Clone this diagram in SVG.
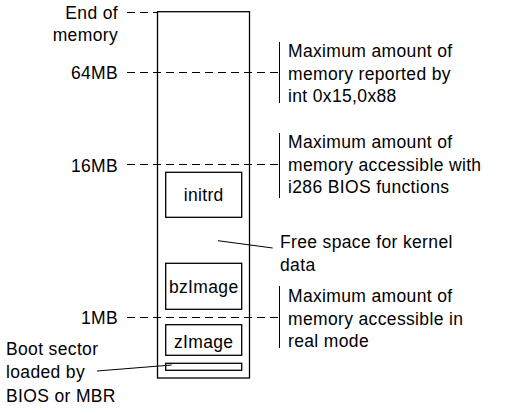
<svg xmlns="http://www.w3.org/2000/svg" width="509" height="413" viewBox="0 0 509 413">
<style>
text{font-family:"Liberation Sans",Arial,sans-serif;font-size:17.5px;letter-spacing:0.35px;fill:#000}
.r{text-anchor:end}
.m{text-anchor:middle}
.box{fill:none;stroke:#000;stroke-width:1.3}
.dash{stroke:#000;stroke-width:1.2;stroke-dasharray:8,5;fill:none}
.ln{stroke:#000;stroke-width:1;fill:none}
</style>
<rect width="509" height="413" fill="#fff"/>
<g id="memory">
<rect class="box" x="157.5" y="11.7" width="92" height="366.3"/>
</g>
<g id="initrd">
<rect class="box" x="165.7" y="172.3" width="76" height="45"/>
<text class="m" x="203.7" y="201">initrd</text>
</g>
<g id="bzImage">
<rect class="box" x="165.7" y="263.3" width="76" height="46"/>
<text class="m" x="203.7" y="293">bzImage</text>
</g>
<g id="zImage">
<rect class="box" x="165.7" y="324.7" width="76" height="30.6"/>
<text class="m" x="203.7" y="347.5">zImage</text>
</g>
<g id="bootsector">
<rect class="box" x="165.7" y="363.3" width="76" height="7"/>
</g>
<g id="labels">
<text class="r" x="118" y="18.5">End of</text>
<text class="r" x="118" y="41">memory</text>
<text class="r" x="118" y="79">64MB</text>
<text class="r" x="118" y="171.5">16MB</text>
<text class="r" x="118" y="324">1MB</text>
<text x="6" y="355">Boot sector</text>
<text x="6" y="378">loaded by</text>
<text x="6" y="401.5">BIOS or MBR</text>
<text x="288" y="57">Maximum amount of</text>
<text x="288" y="79.5">memory reported by</text>
<text x="288" y="102">int 0x15,0x88</text>
<text x="288" y="148">Maximum amount of</text>
<text x="288" y="170.5">memory accessible with</text>
<text x="288" y="193">i286 BIOS functions</text>
<text x="280" y="248">Free space for kernel</text>
<text x="280" y="270.5">data</text>
<text x="288" y="302">Maximum amount of</text>
<text x="288" y="324.5">memory accessible in</text>
<text x="288" y="347">real mode</text>
</g>
<g id="connectors">
<line class="dash" x1="127" y1="12.5" x2="157" y2="12.5"/>
<line class="dash" x1="127" y1="72.5" x2="279" y2="72.5"/>
<line class="dash" x1="127" y1="164.5" x2="279" y2="164.5"/>
<line class="dash" x1="127" y1="317.5" x2="279" y2="317.5"/>
<line class="ln" x1="279.5" y1="42" x2="279.5" y2="103"/>
<line class="ln" x1="279.5" y1="133" x2="279.5" y2="198"/>
<line class="ln" x1="279.5" y1="286" x2="279.5" y2="348"/>
<line class="ln" x1="218" y1="240.7" x2="272.7" y2="248"/>
<line class="ln" x1="97" y1="371" x2="171.7" y2="365"/>
</g>
</svg>
